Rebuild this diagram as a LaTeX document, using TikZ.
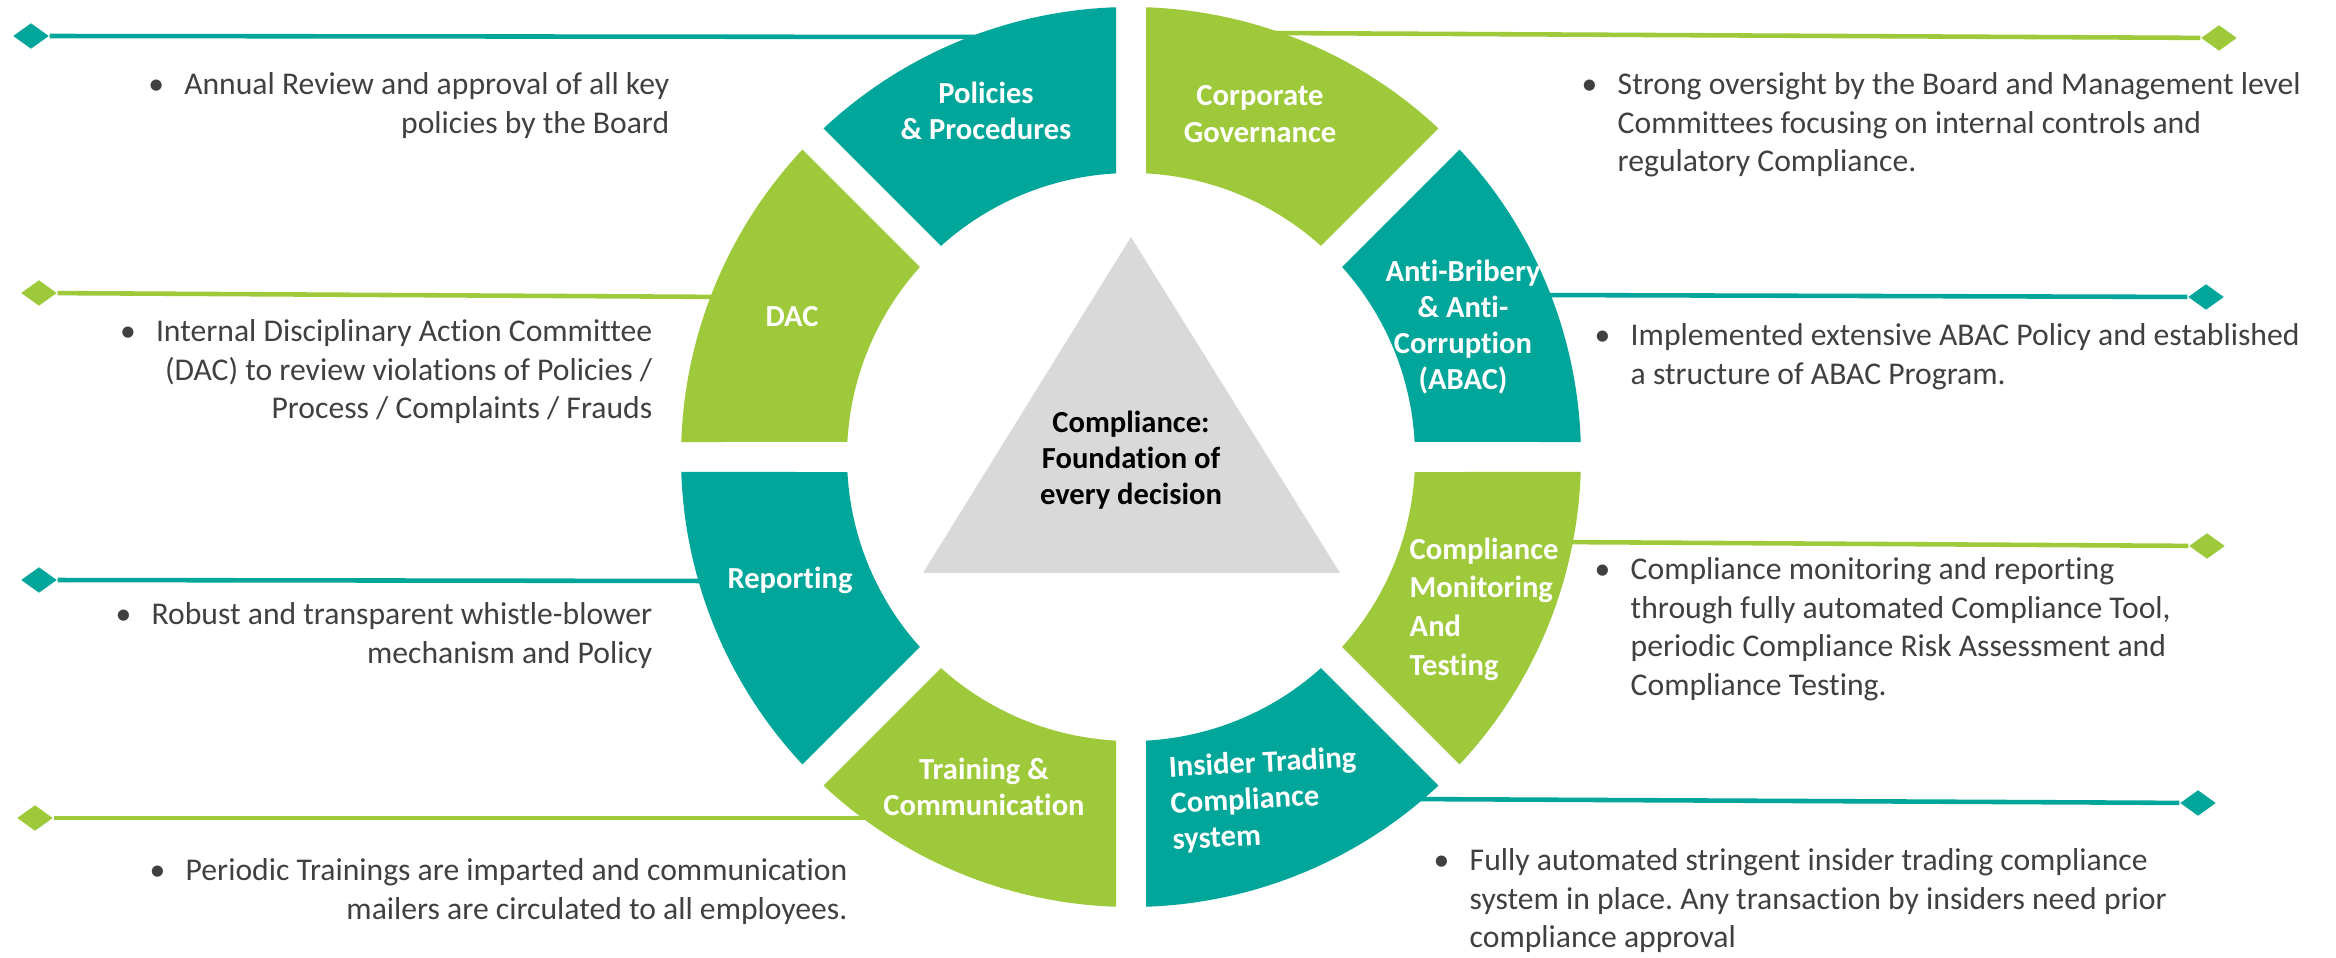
\documentclass[tikz,border=0pt]{standalone}
\usepackage{fontspec}
\setmainfont{Carlito}[Ligatures=NoCommon]
\usetikzlibrary{shapes.geometric, calc}

\definecolor{compteal}{RGB}{0,166,153}
\definecolor{compgreen}{RGB}{157,201,59}
\definecolor{coregray}{RGB}{217,217,217}
\definecolor{notegray}{RGB}{64,64,64}

\newcommand{\dotitem}{\makebox[0.36cm][l]{\textbullet}}
\newcommand{\dotskip}{\hspace*{0.36cm}}
\frenchspacing

\begin{document}
\begin{tikzpicture}[
    x=0.01cm, y=0.01cm,
    ringpart/.style={
        fill=#1
    },
    seglabel/.style={
        text=white,
        font=\fontsize{8.7}{10.3}\selectfont\bfseries,
        align=center,
        inner sep=0pt
    },
    note/.style={
        text=notegray,
        font=\fontsize{9.0}{10.95}\selectfont,
        inner sep=0pt
    },
    leftnote/.style={
        note,
        align=right,
        anchor=north east
    },
    rightnote/.style={
        note,
        align=left,
        anchor=north west
    },
    lozenge/.style={
        diamond,
        fill=#1,
        minimum width=0.36cm,
        minimum height=0.26cm,
        inner sep=0pt
    },
    leader/.style={
        draw=#1,
        line width=1.3pt
    }
]

\useasboundingbox (0,0) rectangle (2336,957);

% --- CENTRE OF THE RING -----------------------------------------

\coordinate (C) at (1131,500);

% --- LEADER LINES (behind the ring) -----------------------------

\node[lozenge=compteal] (dPol) at (31,921) {};
\coordinate (ePol) at (989,920);
\draw[leader=compteal] (dPol) -- (ePol);

\node[lozenge=compgreen] (dDac) at (39,664) {};
\coordinate (eDac) at (732,660);
\draw[leader=compgreen] (dDac) -- (eDac);

\node[lozenge=compteal] (dRep) at (39,377) {};
\coordinate (eRep) at (718,376);
\draw[leader=compteal] (dRep) -- (eRep);

\node[lozenge=compgreen] (dTrn) at (35,139) {};
\coordinate (eTrn) at (882,139);
\draw[leader=compgreen] (dTrn) -- (eTrn);

\node[lozenge=compgreen] (dGov) at (2219,919) {};
\coordinate (eGov) at (1267,924);
\draw[leader=compgreen] (eGov) -- (dGov);

\node[lozenge=compteal] (dAbc) at (2206,660) {};
\coordinate (eAbc) at (1531,662);
\draw[leader=compteal] (eAbc) -- (dAbc);

\node[lozenge=compgreen] (dMon) at (2207,411) {};
\coordinate (eMon) at (1553,415);
\draw[leader=compgreen] (eMon) -- (dMon);

\node[lozenge=compteal] (dIns) at (2198,154) {};
\coordinate (eIns) at (1402,158);
\draw[leader=compteal] (eIns) -- (dIns);

% --- RING SECTORS -----------------------------------------------

\fill[ringpart=compteal]  ($(C)+(1.91:450)$)   arc[start angle=1.91,   end angle=43.09,  radius=450] -- ($(C)+(41.97:284)$)  arc[start angle=41.97,  end angle=3.03,   radius=284] -- cycle;
\fill[ringpart=compgreen] ($(C)+(46.91:450)$)  arc[start angle=46.91,  end angle=88.09,  radius=450] -- ($(C)+(86.97:284)$)  arc[start angle=86.97,  end angle=48.03,  radius=284] -- cycle;
\fill[ringpart=compteal]  ($(C)+(91.91:450)$)  arc[start angle=91.91,  end angle=133.09, radius=450] -- ($(C)+(131.97:284)$) arc[start angle=131.97, end angle=93.03,  radius=284] -- cycle;
\fill[ringpart=compgreen] ($(C)+(136.91:450)$) arc[start angle=136.91, end angle=178.09, radius=450] -- ($(C)+(176.97:284)$) arc[start angle=176.97, end angle=138.03, radius=284] -- cycle;
\fill[ringpart=compteal]  ($(C)+(181.91:450)$) arc[start angle=181.91, end angle=223.09, radius=450] -- ($(C)+(221.97:284)$) arc[start angle=221.97, end angle=183.03, radius=284] -- cycle;
\fill[ringpart=compgreen] ($(C)+(226.91:450)$) arc[start angle=226.91, end angle=268.09, radius=450] -- ($(C)+(266.97:284)$) arc[start angle=266.97, end angle=228.03, radius=284] -- cycle;
\fill[ringpart=compteal]  ($(C)+(271.91:450)$) arc[start angle=271.91, end angle=313.09, radius=450] -- ($(C)+(311.97:284)$) arc[start angle=311.97, end angle=273.03, radius=284] -- cycle;
\fill[ringpart=compgreen] ($(C)+(316.91:450)$) arc[start angle=316.91, end angle=358.09, radius=450] -- ($(C)+(356.97:284)$) arc[start angle=356.97, end angle=318.03, radius=284] -- cycle;

% --- SECTOR LABELS ----------------------------------------------

\node[seglabel] (lPol) at (986,846) {Policies\\ \& Procedures};
\node[seglabel] (lGov) at (1260,843) {Corporate\\ Governance};
\node[seglabel] (lAbc) at (1463,630) {Anti-Bribery\\ \& Anti-\\ Corruption\\ (ABAC)};
\node[seglabel, align=left, anchor=west, font=\fontsize{8.7}{11}\selectfont\bfseries] (lMon) at (1409,348) {Compliance\\ Monitoring\\ And\\ Testing};
\node[seglabel, align=left, anchor=west, rotate=3] (lIns) at (1170,152) {Insider Trading\\ Compliance\\ system};
\node[seglabel] (lTrn) at (984,170) {Training \&\\ Communication};
\node[seglabel] (lRep) at (790,377) {Reporting};
\node[seglabel] (lDac) at (792,640) {DAC};

% --- CORE TRIANGLE ----------------------------------------------

\fill[coregray] (1131,720) -- (923,384) -- (1340,384) -- cycle;
\node[seglabel, text=black] (core) at (1131,497) {Compliance:\\ Foundation of\\ every decision};

% --- NOTES, LEFT ------------------------------------------------

\node[leftnote] (nPol) at (670,885) {\dotitem Annual Review and approval of all key\\ policies by the Board};
\node[leftnote] (nDac) at (653,638) {\dotitem Internal Disciplinary Action Committee\\ (DAC) to review violations of Policies /\\ Process / Complaints / Frauds};
\node[leftnote] (nRep) at (653,355) {\dotitem Robust and transparent whistle-blower\\ mechanism and Policy};
\node[leftnote] (nTrn) at (848,99) {\dotitem Periodic Trainings are imparted and communication\\ mailers are circulated to all employees.};

% --- NOTES, RIGHT -----------------------------------------------

\node[rightnote] (nGov) at (1581,885) {\dotitem Strong oversight by the Board and Management level\\ \dotskip Committees focusing on internal controls and\\ \dotskip regulatory Compliance.};
\node[rightnote] (nAbc) at (1594,634) {\dotitem Implemented extensive ABAC Policy and established\\ \dotskip a structure of ABAC Program.};
\node[rightnote] (nMon) at (1594,400) {\dotitem Compliance monitoring and reporting\\ \dotskip through fully automated Compliance Tool,\\ \dotskip periodic Compliance Risk Assessment and\\ \dotskip Compliance Testing.};
\node[rightnote] (nIns) at (1433,109) {\dotitem Fully automated stringent insider trading compliance\\ \dotskip system in place. Any transaction by insiders need prior\\ \dotskip compliance approval};

\end{tikzpicture}
\end{document}
